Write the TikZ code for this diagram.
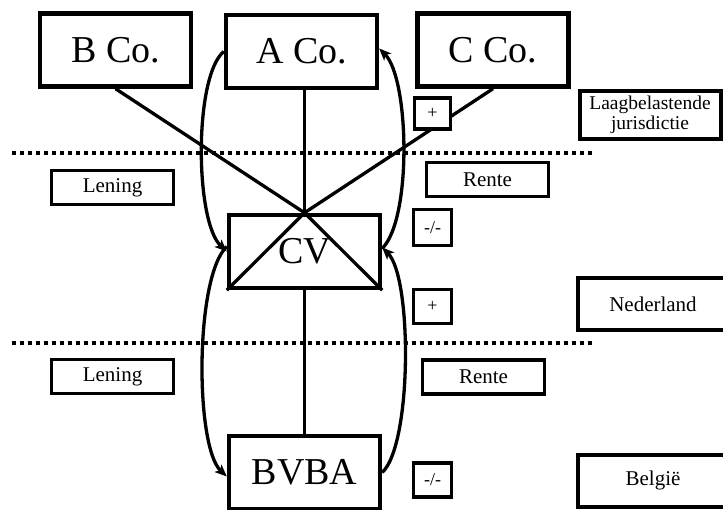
\documentclass[tikz,border=0pt]{standalone}
\usepackage{fontspec}
\setmainfont{Liberation Serif}
\usetikzlibrary{arrows.meta}
\begin{document}
\begin{tikzpicture}[x=1pt,y=-1pt,
  entity/.style={draw, line width=4.4pt, fill=white, inner sep=0pt,
    minimum width=151pt, minimum height=73pt, font=\fontsize{38}{42}\selectfont},
  label/.style={draw, line width=3.6pt, fill=white, inner sep=0pt,
    minimum width=122pt, minimum height=34pt, font=\fontsize{21}{23}\selectfont},
  sign/.style={draw, line width=3.6pt, fill=white, inner sep=0pt,
    minimum width=38pt, minimum height=34pt, font=\fontsize{18}{20}\selectfont},
  region/.style={draw, line width=4pt, fill=white, inner sep=0pt, align=center,
    minimum width=146pt, minimum height=52pt, font=\fontsize{21}{21}\selectfont},
  link/.style={line width=3.3pt},
  flow/.style={line width=3.3pt, -{Stealth[length=12pt,width=10pt,inset=3pt]}},
  border/.style={line width=4.5pt, dash pattern=on 4pt off 4pt}]
\useasboundingbox (0,0) rectangle (723,510);

% jurisdiction borders
\coordinate (b1s) at (12,153);
\coordinate (b1e) at (595,153);
\coordinate (b2s) at (12,343);
\coordinate (b2e) at (595,343);
\draw[border] (b1s) -- (b1e);
\draw[border] (b2s) -- (b2e);

% entities
\node[entity] (B) at (115.5,50) {B Co.};
\node[entity] (A) at (301.5,51.5) {A Co.};
\node[entity] (C) at (493,50) {C Co.};
\node[entity] (CV) at (304.5,251.5) {};
\node[font=\fontsize{38}{42}\selectfont] (cvt) at (304.5,251.5) {CV};
\node[entity] (BVBA) at (304.5,472.5) {BVBA};

% ownership lines
\draw[link] (B.south) -- (CV.north);
\draw[link] (C.south) -- (CV.north);
\draw[link] (A.south -| CV.north) -- (CV.north);
\draw[link] (CV.north) -- (CV.south west);
\draw[link] (CV.north) -- (CV.south east);
\draw[link] (CV.south) -- (BVBA.north);

% loans and interest
\draw[flow] (A.west) .. controls +(-30,25) and +(-32,-30) .. (CV.west);
\draw[flow] ([yshift=3pt]CV.east) .. controls +(30,-30) and +(30,30) .. ([yshift=3pt]A.east);
\draw[flow] ([yshift=5pt]CV.west) .. controls +(-32,30) and +(-32,-30) .. ([yshift=-4pt]BVBA.west);
\draw[flow] (BVBA.east) .. controls +(30,-28) and +(30,30) .. ([yshift=4pt]CV.east);

% tax effect markers
\node[sign, minimum width=36pt, minimum height=31pt] (p1) at (432.5,113.5) {+};
\node[sign, minimum height=36pt] (m1) at (432.5,227.5) {-/-};
\node[sign] (p2) at (432.5,306.5) {+};
\node[sign] (m2) at (432.5,480) {-/-};

% flow labels
\node[label] (len1) at (112.5,187.5) {Lening};
\node[label] (len2) at (112.5,376.5) {Lening};
\node[label] (ren1) at (487.5,179.5) {Rente};
\node[label] (ren2) at (483.5,377) {Rente};

% jurisdictions
\node[region, minimum width=141pt, minimum height=48pt, font=\fontsize{19.5}{20.5}\selectfont] (low) at (650,115) {Laagbelastende\\jurisdictie};
\node[region, minimum width=150pt] (nl) at (653,304.5) {Nederland};
\node[region, minimum width=150pt] (be) at (653,480.5) {België};
\end{tikzpicture}
\end{document}
